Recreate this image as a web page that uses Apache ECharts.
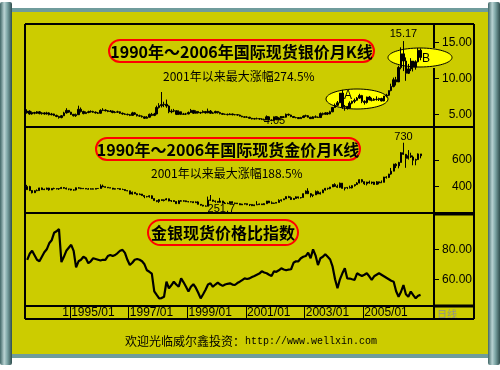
<!DOCTYPE html>
<html><head><meta charset="utf-8">
<script src="https://cdn.jsdelivr.net/npm/echarts@6/dist/echarts.min.js"></script>
<style>html,body{margin:0;padding:0;background:#fff}#c{width:500px;height:370px}</style>
</head><body><div id="c"></div>
<script>
// ---- categories (monthly, 1993/07 .. 2007/05) ----
const months = [];
for (let y = 1993, m = 7; months.length < 167; m++) {
  if (m > 12) { m = 1; y++; }
  months.push(y + '/' + (m < 10 ? '0' + m : m));
}
const xTickLabels = ['1995/01','1997/01','1999/01','2001/01','2003/01','2005/01'];

// ---- silver monthly K (USD/oz), 1993/07 .. 2006/12 ----
const silverOpen = [5.20,5.45,5.05,5.25,5.15,5.35,
 5.10,5.20,5.05,5.20,4.95,5.05,4.85,4.70,4.55,4.80,5.20,5.55,
 5.30,5.00,4.80,4.95,5.70,5.40,5.10,5.25,5.35,5.40,5.30,5.20,
 5.15,5.55,5.60,5.50,5.40,5.45,5.25,5.30,5.35,5.15,5.05,5.00,
 4.95,4.85,5.20,5.00,4.80,4.75,4.65,4.45,4.60,5.00,4.85,5.05,
 5.95,6.20,6.35,6.40,6.15,5.35,5.45,5.50,5.00,5.35,5.00,5.05,
 5.05,5.25,5.55,5.15,5.40,5.20,5.25,5.40,5.20,5.45,5.15,5.20,
 5.40,5.25,5.10,5.00,5.00,4.95,5.05,4.95,4.95,4.90,4.75,4.65,
 4.60,4.60,4.45,4.35,4.40,4.40,4.35,4.30,4.25,4.65,4.20,4.15,
 4.60,4.25,4.50,4.60,4.60,5.00,4.90,4.70,4.55,4.55,4.40,4.55,
 4.75,4.80,4.60,4.40,4.65,4.60,4.55,5.10,5.00,5.20,5.05,5.35,
 5.95,6.25,6.60,7.95,6.00,6.10,5.85,6.55,6.80,6.95,7.25,7.60,
 6.80,6.65,7.40,7.00,6.95,7.10,7.05,7.20,6.85,7.55,7.65,8.30,
 8.85,9.80,9.50,11.50,13.40,12.40,10.70,11.30,12.40,11.55,12.30,13.90];
const silverClose = [5.45,5.05,5.25,5.15,5.35,5.10,
 5.20,5.05,5.20,4.95,5.05,4.85,4.70,4.55,4.80,5.20,5.55,5.30,
 5.00,4.80,4.95,5.70,5.40,5.10,5.25,5.35,5.40,5.30,5.20,5.15,
 5.55,5.60,5.50,5.40,5.45,5.25,5.30,5.35,5.15,5.05,5.00,4.95,
 4.85,5.20,5.00,4.80,4.75,4.65,4.45,4.60,5.00,4.85,5.05,5.95,
 6.20,6.35,6.40,6.15,5.35,5.45,5.50,5.00,5.35,5.00,5.05,5.05,
 5.25,5.55,5.15,5.40,5.20,5.25,5.40,5.20,5.45,5.15,5.20,5.40,
 5.25,5.10,5.00,5.00,4.95,5.05,4.95,4.95,4.90,4.75,4.65,4.60,
 4.60,4.45,4.35,4.40,4.40,4.35,4.30,4.25,4.65,4.20,4.15,4.60,
 4.25,4.50,4.60,4.60,5.00,4.90,4.70,4.55,4.55,4.40,4.55,4.75,
 4.80,4.60,4.40,4.65,4.60,4.55,5.10,5.00,5.20,5.05,5.35,5.95,
 6.25,6.60,7.95,6.00,6.10,5.85,6.55,6.80,6.95,7.25,7.60,6.80,
 6.65,7.40,7.00,6.95,7.10,7.05,7.20,6.85,7.55,7.65,8.30,8.85,
 9.80,9.50,11.50,13.40,12.40,10.70,11.30,12.40,11.55,12.30,13.90,12.90];
const silverLow = [5.10,4.95,4.95,5.00,5.05,5.00,
 4.95,4.95,4.95,4.85,4.85,4.75,4.60,4.40,4.45,4.75,5.10,5.20,
 4.90,4.70,4.65,4.90,5.25,5.00,5.05,5.15,5.25,5.20,5.10,5.05,
 5.10,5.45,5.40,5.30,5.30,5.15,5.15,5.20,5.05,4.95,4.90,4.85,
 4.75,4.80,4.90,4.70,4.65,4.55,4.35,4.40,4.55,4.75,4.75,5.00,
 5.80,5.95,6.00,5.90,5.15,5.15,5.30,4.90,4.95,4.90,4.95,4.90,
 5.00,5.20,5.05,5.10,5.10,5.05,5.15,5.10,5.15,5.05,5.05,5.15,
 5.10,5.00,4.95,4.90,4.85,4.90,4.85,4.85,4.80,4.70,4.60,4.55,
 4.50,4.40,4.30,4.30,4.30,4.25,4.20,4.15,4.20,4.15,4.05,4.15,
 4.20,4.25,4.45,4.50,4.55,4.80,4.60,4.50,4.45,4.35,4.40,4.50,
 4.70,4.55,4.35,4.40,4.55,4.50,4.55,4.85,4.95,4.90,5.00,5.30,
 5.90,6.15,6.55,5.75,5.50,5.65,5.85,6.40,6.55,6.90,7.15,6.55,
 6.35,6.50,6.95,6.80,6.85,6.90,6.85,6.80,6.80,7.35,7.55,8.20,
 8.75,9.00,9.50,11.25,11.00,9.65,10.60,11.00,10.95,11.20,12.20,12.50];
const silverHigh = [5.70,5.55,5.40,5.35,5.45,5.45,
 5.30,5.30,5.35,5.30,5.20,5.10,4.95,4.80,4.90,5.35,5.85,5.60,
 5.35,5.05,5.10,6.20,5.95,5.50,5.40,5.50,5.55,5.50,5.40,5.30,
 5.70,5.85,5.70,5.60,5.60,5.50,5.45,5.50,5.40,5.25,5.15,5.10,
 5.05,5.35,5.30,5.05,4.95,4.85,4.70,4.75,5.10,5.20,5.20,6.20,
 6.55,8.10,6.75,7.05,6.25,5.70,5.75,5.55,5.55,5.40,5.20,5.20,
 5.40,5.75,5.60,5.55,5.45,5.35,5.55,5.45,5.80,5.60,5.35,5.50,
 5.45,5.35,5.20,5.10,5.10,5.15,5.10,5.05,5.00,4.95,4.80,4.70,
 4.75,4.65,4.50,4.50,4.55,4.45,4.45,4.40,4.85,4.70,4.30,4.70,
 4.65,4.60,4.70,4.70,5.10,5.10,4.95,4.75,4.65,4.60,4.65,4.85,
 4.95,4.90,4.65,4.75,4.85,4.70,5.25,5.25,5.30,5.30,5.50,6.00,
 6.50,6.85,7.95,8.40,6.30,6.15,6.80,6.90,7.20,7.40,7.85,7.70,
 6.95,7.45,7.55,7.30,7.25,7.50,7.30,7.30,7.55,7.85,8.30,9.25,
 10.10,10.20,11.75,14.30,15.17,12.90,12.00,12.80,12.40,12.50,14.20,14.15];

// ---- gold monthly K (USD/oz), 1993/07 .. 2006/12 ----
const goldOpen = [378,401,372,355,370,371,
 391,378,381,390,376,387,386,384,386,394,389,383,
 383,375,376,392,389,385,387,383,382,384,382,387,
 387,405,400,396,392,390,382,385,386,379,379,371,
 369,345,358,348,340,345,334,326,325,332,311,296,
 290,303,297,301,309,293,296,289,273,294,292,294,
 288,287,287,280,286,268,262,255,254,299,300,292,
 290,283,293,277,274,273,288,275,278,273,264,270,
 273,265,267,258,264,266,271,265,273,293,279,275,
 277,282,297,302,309,326,318,304,312,324,317,319,
 348,368,348,335,339,364,346,354,375,388,386,398,
 416,403,396,427,388,393,395,391,408,416,428,453,
 438,422,435,428,435,417,437,429,433,473,470,495,
 517,569,557,582,655,643,613,633,623,599,604,646];
const goldClose = [401,372,355,370,371,391,
 378,381,390,376,387,386,384,386,394,389,383,383,
 375,376,392,389,385,387,383,382,384,382,387,387,
 405,400,396,392,390,382,385,386,379,379,371,369,
 345,358,348,340,345,334,326,325,332,311,296,290,
 303,297,301,309,293,296,289,273,294,292,294,288,
 287,287,280,286,268,262,255,254,299,300,292,290,
 283,293,277,274,273,288,275,278,273,264,270,273,
 265,267,258,264,266,271,265,273,293,279,275,277,
 282,297,302,309,326,318,304,312,324,317,319,348,
 368,348,335,339,364,346,354,375,388,386,398,416,
 403,396,427,388,393,395,391,408,416,428,453,438,
 422,435,428,435,417,437,429,433,473,470,495,517,
 569,557,582,655,643,613,633,623,599,604,646,632];
const goldLow = [376,367,350,354,367,370,
 376,375,378,370,375,381,380,376,384,385,380,374,
 372,370,372,387,382,385,382,380,381,381,381,384,
 387,396,393,390,390,380,380,384,377,377,369,366,
 343,341,346,337,339,333,314,320,318,308,295,284,
 279,294,290,300,291,286,287,272,273,289,289,285,
 283,283,278,279,267,258,253,251.7,254,295,288,280,
 280,281,274,272,271,272,275,272,270,263,264,266,
 262,255,255,255,264,264,264,265,272,278,270,271,
 277,282,288,300,309,315,301,302,311,311,312,319,
 345,345,320,322,338,345,342,354,371,377,381,398,
 398,390,390,386,372,382,387,387,401,413,425,431,
 414,410,423,419,414,414,418,428,433,461,465,490,
 516,540,538,582,639,542,604,616,561,561,602,613];
const goldHigh = [414,407,375,374,380,392,
 394,386,393,392,389,393,388,388,399,397,394,385,
 384,381,394,397,393,391,389,390,388,387,389,390,
 418,416,402,398,395,391,388,390,387,386,382,373,
 370,364,358,350,350,346,335,331,336,335,313,298,
 307,305,305,315,311,298,298,292,299,300,299,296,
 293,291,290,290,291,270,264,260,326,338,302,296,
 292,316,294,286,282,291,290,280,278,276,272,275,
 273,268,267,265,292,274,272,276,294,294,290,280,
 285,306,304,310,327,332,327,316,328,325,323,349,
 372,389,352,340,372,371,362,379,391,392,398,417,
 426,416,431,428,394,398,408,411,416,434,456,457,
 439,437,446,438,437,443,438,447,474,479,497,541,
 572,576,587,660,730,646,675,655,634,610,650,646];

// ---- gold/silver ratio index, 1993/07 .. 2006/12 ----
const ratio = [73,77,79,76,73,72,
 75,78,80,84,86,91,92,93.5,71.5,75,79,81,
 83,79,68,72,73,75,74,70.7,72,74,73.5,73,
 72.5,73,73,75.5,76.2,75.5,76.2,77.5,79,79.6,77.6,73,
 69.5,71,73,73.5,73,72,70,66,65,63.8,52,49.6,
 47.3,47.5,48.4,58.4,54,56,58.4,56.5,55,60.6,58,55,
 51.8,55,56.7,54.4,51,47.3,50,53,56.5,57.3,55,56.5,
 57.8,56.5,55.6,56.5,57,57.3,56.5,56.2,57.5,58.4,59.5,60.6,
 60.2,60.6,61.5,62.2,63,63.8,65.3,64.5,64,63,62.2,65.3,
 65,66,67.3,66.5,66,66.5,66.7,71,72,72,74,75,
 75.5,77.8,74,80,76,69.5,74,75,76.7,75,73.2,68.4,
 60,54,60,64,67.3,60.6,60.5,60,59.6,64,63,62.2,
 63,64,62,59.6,62,63,64,63,62,61,60,59,
 58.4,52,48.4,51.7,56.2,50,48.4,51.8,49.5,47.3,49,49.6];

// ---- axis tick values ----
const silverTicks = [5, 10, 15];
const goldTicks = [400, 600];
const ratioTicks = [60, 80];

const silverK = silverOpen.map((o, i) => [o, silverClose[i], silverLow[i], silverHigh[i]]);
const goldK = goldOpen.map((o, i) => [o, goldClose[i], goldLow[i], goldHigh[i]]);

const BG = '#CCCC00';
const NUMFONT = 'Liberation Sans';
const CJK = '"Noto Sans CJK SC"';

const chart = echarts.init(document.getElementById('c'), null, {renderer: 'canvas'});

function hideX(gi) {
  return {type: 'category', gridIndex: gi, data: months, boundaryGap: true, show: false};
}
function yAx(gi, min, max, ticks, fmt) {
  return {
    type: 'value', gridIndex: gi, position: 'right', min: min, max: max, scale: true,
    splitLine: {show: false}, axisLine: {show: false},
    axisTick: {show: true, length: 5, customValues: ticks, lineStyle: {color: '#000', width: 1}},
    axisLabel: {show: true, customValues: ticks, formatter: fmt, align: 'right', margin: 38,
      color: '#000', fontSize: 12, fontFamily: NUMFONT}
  };
}
const kStyle = {color: '#000', color0: '#000', borderColor: '#000', borderColor0: '#000', borderWidth: 1};
const mpLabel = {show: true, color: '#000', fontSize: 11, fontFamily: NUMFONT, formatter: p => p.name};

function line(x1, y1, x2, y2, w, z) {
  return {type: 'line', shape: {x1, y1, x2, y2}, style: {stroke: '#000', lineWidth: w || 2}, z: z || 20, silent: true};
}
function capsule(x, y, w, h) {
  return {type: 'rect', shape: {x, y, width: w, height: h, r: h / 2}, style: {fill: BG, stroke: '#ff0000', lineWidth: 2}, z: 15};
}
function txt(t, x, y, font, align, color, z) {
  return {type: 'text', x, y, style: {text: t, font, fill: color || '#000', align: align || 'center', verticalAlign: 'middle'}, z: z || 16};
}

const option = {
  animation: false,
  backgroundColor: '#ffffff',
  grid: [
    {left: 26, right: 66, top: 24, height: 103},
    {left: 26, right: 66, top: 127, height: 86},
    {left: 26, right: 66, top: 213, height: 93}
  ],
  xAxis: [
    hideX(0), hideX(1),
    {type: 'category', gridIndex: 2, data: months, boundaryGap: true,
     axisLine: {show: false},
     axisTick: {show: true, inside: false, length: 13, interval: (i, v) => xTickLabels.includes(v), lineStyle: {color: '#000', width: 1}},
     axisLabel: {show: true, interval: (i, v) => xTickLabels.includes(v), align: 'left', margin: 1,
       color: '#000', fontSize: 12, fontFamily: NUMFONT}}
  ],
  yAxis: [
    yAx(0, 3.24, 17.54, silverTicks, v => v.toFixed(2)),
    yAx(1, 203, 848, goldTicks, v => String(v)),
    yAx(2, 42.2, 104.2, ratioTicks, v => v.toFixed(2))
  ],
  series: [
    {type: 'candlestick', xAxisIndex: 0, yAxisIndex: 0, data: silverK, barWidth: 2, itemStyle: kStyle, z: 5,
     markPoint: {symbol: 'circle', symbolSize: 0, label: mpLabel, data: [
       {name: '15.17', coord: [months[154], silverHigh[154]], label: {position: 'top', distance: 2}},
       {name: '4.05', coord: [months[100], silverLow[100]], label: {position: 'inside', offset: [3, 0]}}
     ]}},
    {type: 'candlestick', xAxisIndex: 1, yAxisIndex: 1, data: goldK, barWidth: 1.5, itemStyle: kStyle, z: 5,
     markPoint: {symbol: 'circle', symbolSize: 0, label: mpLabel, data: [
       {name: '730', coord: [months[154], goldHigh[154]], label: {position: 'top', distance: 0}},
       {name: '251.7', coord: [months[73], goldLow[73]], label: {position: 'right', distance: 2, offset: [0, 2]}}
     ]}},
    {type: 'line', xAxisIndex: 2, yAxisIndex: 2, data: ratio, symbol: 'none', z: 5,
     lineStyle: {color: '#000', width: 2.2}}
  ],
  graphic: [
    // outer scroll decoration
    {type: 'rect', shape: {x: 12, y: 8, width: 476, height: 350}, style: {fill: '#6f9c9c'}, z: -20, silent: true},
    {type: 'rect', shape: {x: 12, y: 12, width: 476, height: 342}, style: {fill: BG}, z: -19, silent: true},
    {type: 'rect', shape: {x: 0, y: 2, width: 12, height: 363, r: 2},
     style: {fill: new echarts.graphic.LinearGradient(0, 0, 1, 0, [
       {offset: 0, color: '#3f6666'}, {offset: 0.35, color: '#b9d3d3'}, {offset: 0.6, color: '#7fa8a8'}, {offset: 1, color: '#2f4e4e'}])}, z: -18, silent: true},
    {type: 'rect', shape: {x: 488, y: 2, width: 12, height: 363, r: 2},
     style: {fill: new echarts.graphic.LinearGradient(0, 0, 1, 0, [
       {offset: 0, color: '#3f6666'}, {offset: 0.35, color: '#b9d3d3'}, {offset: 0.6, color: '#7fa8a8'}, {offset: 1, color: '#2f4e4e'}])}, z: -18, silent: true},
    // highlight ellipses
    {type: 'ellipse', shape: {cx: 357, cy: 99, rx: 31, ry: 10}, style: {fill: '#ffff00', stroke: '#000', lineWidth: 1}, z: 1},
    {type: 'ellipse', shape: {cx: 420, cy: 57.5, rx: 32, ry: 9.5}, style: {fill: '#ffff00', stroke: '#000', lineWidth: 1}, z: 1},
    txt('A', 348, 96, '12px "Liberation Sans"'),
    txt('B', 426, 59, '12px "Liberation Sans"'),
    // frame
    line(25, 24, 474, 24), line(25, 319, 474, 319), line(25, 24, 25, 319), line(474, 24, 474, 319),
    line(25, 127, 474, 127), line(25, 213, 474, 213), line(25, 306, 474, 306),
    line(434, 24, 434, 48), line(434, 68, 434, 319),
    line(434, 214, 474, 214, 3), line(434, 306, 474, 306, 3),
    // titles
    capsule(109, 40, 265, 22), txt('1990年～2006年国际现货银价月K线', 241.5, 51.5, 'bold 16px ' + CJK),
    txt('2001年以来最大涨幅274.5%', 163, 76, '12px ' + CJK, 'left'),
    capsule(96, 138, 264, 22), txt('1990年～2006年国际现货金价月K线', 228, 149.5, 'bold 16px ' + CJK),
    txt('2001年以来最大涨幅188.5%', 151, 173, '12px ' + CJK, 'left'),
    capsule(148, 220, 150, 25), txt('金银现货价格比指数', 223, 233, 'bold 16px ' + CJK),
    // misc text
    txt('1', 69, 313, '12px "Liberation Sans"', 'right'),
    txt('日线', 437, 314, '10px ' + CJK, 'left', '#8f8f8f'),
    txt('欢迎光临威尔鑫投资：', 245, 341, '12px ' + CJK, 'right'),
    txt('http://www.wellxin.com', 245, 341, '10px "Liberation Mono"', 'left')
  ]
};
chart.setOption(option);
</script>
</body></html>
